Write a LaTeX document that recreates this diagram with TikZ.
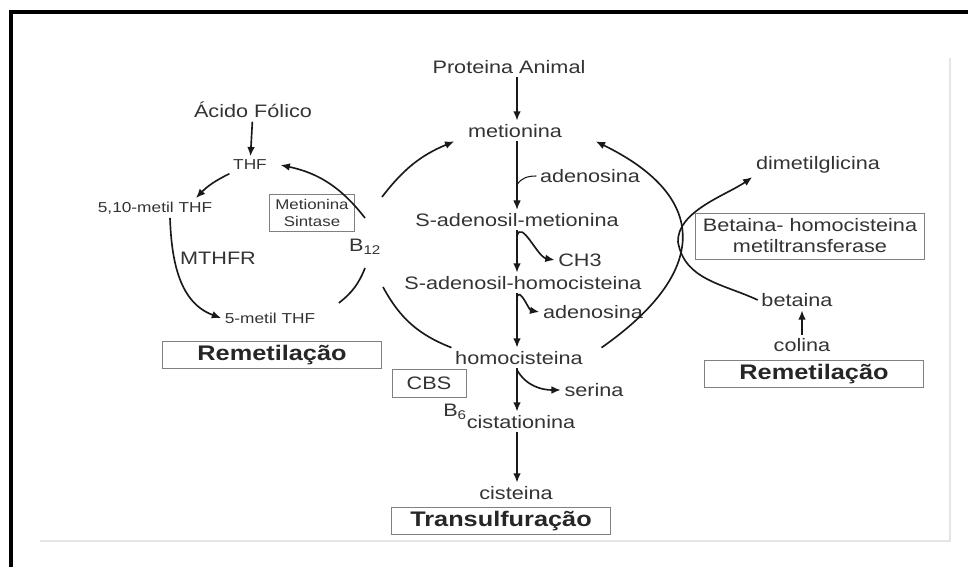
\documentclass[tikz,border=0pt]{standalone}
\usepackage{fontspec}
\setmainfont{Liberation Sans}[FakeStretch=1.2]
\usepackage{tikz}
\usetikzlibrary{arrows,arrows.meta}

\tikzset{
        txt/.style={font=\fontsize{15.4}{18}\selectfont, text=black!80, inner sep=3pt},
        sml/.style={font=\fontsize{12.3}{15}\selectfont, text=black!80, inner sep=3pt},
        rxn/.style={line width=1.4pt, draw=black!90},
        titlebox/.style={draw=black!50, line width=0.8pt, font=\fontsize{18}{20}\selectfont\bfseries, text=black!85, minimum width=6.55cm, minimum height=0.8cm, inner sep=0pt},
        enzbox/.style={draw=black!50, line width=0.8pt, text=black!80, align=center, inner sep=1pt},
}

\begin{document}
\begin{tikzpicture}[x=0.03cm, y=-0.03cm, >={Latex[length=2.8mm,width=2.3mm]}]
        \useasboundingbox (0,0) rectangle (968,567);
        \draw[line width=3pt] (11,567) -- (11,12) -- (968,12);
        \draw[black!10, line width=1pt] (40,541) -- (950,541) -- (950,58);

        \node[txt] (PA) at (509,67) {Proteina Animal};
        \node[txt] (Met) at (515,131) {metionina};
        \node[txt] (SAM) at (517,220) {S-adenosil-metionina};
        \node[txt] (SAH) at (523,283) {S-adenosil-homocisteina};
        \node[txt] (Hcy) at (519,358) {homocisteina};
        \node[txt] (Cist) at (521,422) {cistationina};
        \node[txt] (Cis) at (516,493) {cisteina};
        \node[txt] (Ado1) at (590,176) {adenosina};
        \node[txt] (CH3) at (580,260) {CH3};
        \node[txt] (Ado2) at (593,312) {adenosina};
        \node[txt] (Ser) at (594,390) {serina};
        \node[txt] (B6) at (455,412) {B\textsubscript{6}};
        \node[enzbox, font=\fontsize{15.4}{18}\selectfont, minimum width=2.22cm, minimum height=0.84cm] (CBS) at (429,383) {CBS};
        \node[titlebox] (Trans) at (501,521) {Transulfuração};

        \node[txt] (AF) at (253,110) {Ácido Fólico};
        \node[sml] (THF) at (250,165) {THF};
        \node[sml] (M10) at (155,208) {5,10-metil THF};
        \node[txt] (MTHFR) at (218,258) {MTHFR};
        \node[sml] (M5) at (270,318) {5-metil THF};
        \node[enzbox, font=\fontsize{12}{14.5}\selectfont, minimum width=2.55cm, minimum height=1.11cm] (MS) at (312,213) {Metionina\\Sintase};
        \node[txt] (B12) at (365,247) {B\textsubscript{12}};
        \node[titlebox] (RemL) at (272,355) {Remetilação};

        \node[txt] (DMG) at (818,165) {dimetilglicina};
        \node[enzbox, font=\fontsize{15.4}{18}\selectfont, minimum width=6.85cm, minimum height=1.38cm] (BHMT) at (810,236) {Betaina- homocisteina\\metiltransferase};
        \node[txt] (Bet) at (797,300) {betaina};
        \node[txt] (Col) at (802,345) {colina};
        \node[titlebox] (RemR) at (814,374) {Remetilação};

        \coordinate (a1) at (517,185);
        \coordinate (a2) at (517,236);
        \coordinate (a3) at (517,297);
        \coordinate (a4) at (517,370);
        \coordinate (b12t) at (365,218);
        \coordinate (b12b) at (365,268);
        \coordinate (b12u) at (382,197);
        \coordinate (b12l) at (383,287);
        \coordinate (bx) at (678,242);

        \draw[rxn,->] (PA.south -| SAM) -- (Met.north -| SAM);
        \draw[rxn,->,line width=0.9pt] (Met.south -| SAM) -- (SAM);
        \draw[rxn,->] (SAM) -- (SAH.north -| SAM);
        \draw[rxn,->] (SAH.south -| SAM) -- (Hcy.north -| SAM);
        \draw[rxn,->] (Hcy.south -| SAM) -- (Cist.north -| SAM);
        \draw[rxn,->] (Cist.south -| SAM) -- (Cis.north -| SAM);
        \draw[rxn,line width=0.9pt] (a1) to[out=60,in=180] (Ado1.west);
        \draw[rxn,->] (a2) to[out=75,in=170] (CH3.west);
        \draw[rxn,->] (a3) to[out=75,in=170] (Ado2.west);
        \draw[rxn,->] (a4) to[out=-60,in=180] (Ser.west);

        \draw[rxn,->] (b12u) to[bend left=15] ([xshift=-0.3cm]Met.south west);
        \draw[rxn] (Hcy.north west) to[bend left=20] (b12l);
        \draw[rxn,->] ([xshift=0.45cm]Hcy.north east) to[out=35,in=-26,looseness=1.6] ([xshift=0.9cm]Met.south east);
        \draw[rxn,->] (Bet.west) to[out=155,in=-80] (bx) to[out=92,in=215,looseness=0.8] (DMG.south west);
        \draw[rxn,->] (Col) -- (Col |- Bet.south);

        \draw[rxn,->] (AF) -- (THF);
        \draw[rxn,->] (THF.south west) to[bend right=10] ([xshift=-0.6cm]M10.north east);
        \draw[rxn,->] ([xshift=0.45cm]M10.south) to[out=-88,in=160] (M5.west);
        \draw[rxn] ([xshift=0.6cm,yshift=0.18cm]M5.north east) to[bend right=15] (b12b);
        \draw[rxn,->] (b12t) to[bend right=20] ([xshift=0.3cm]THF.east);
\end{tikzpicture}
\end{document}
